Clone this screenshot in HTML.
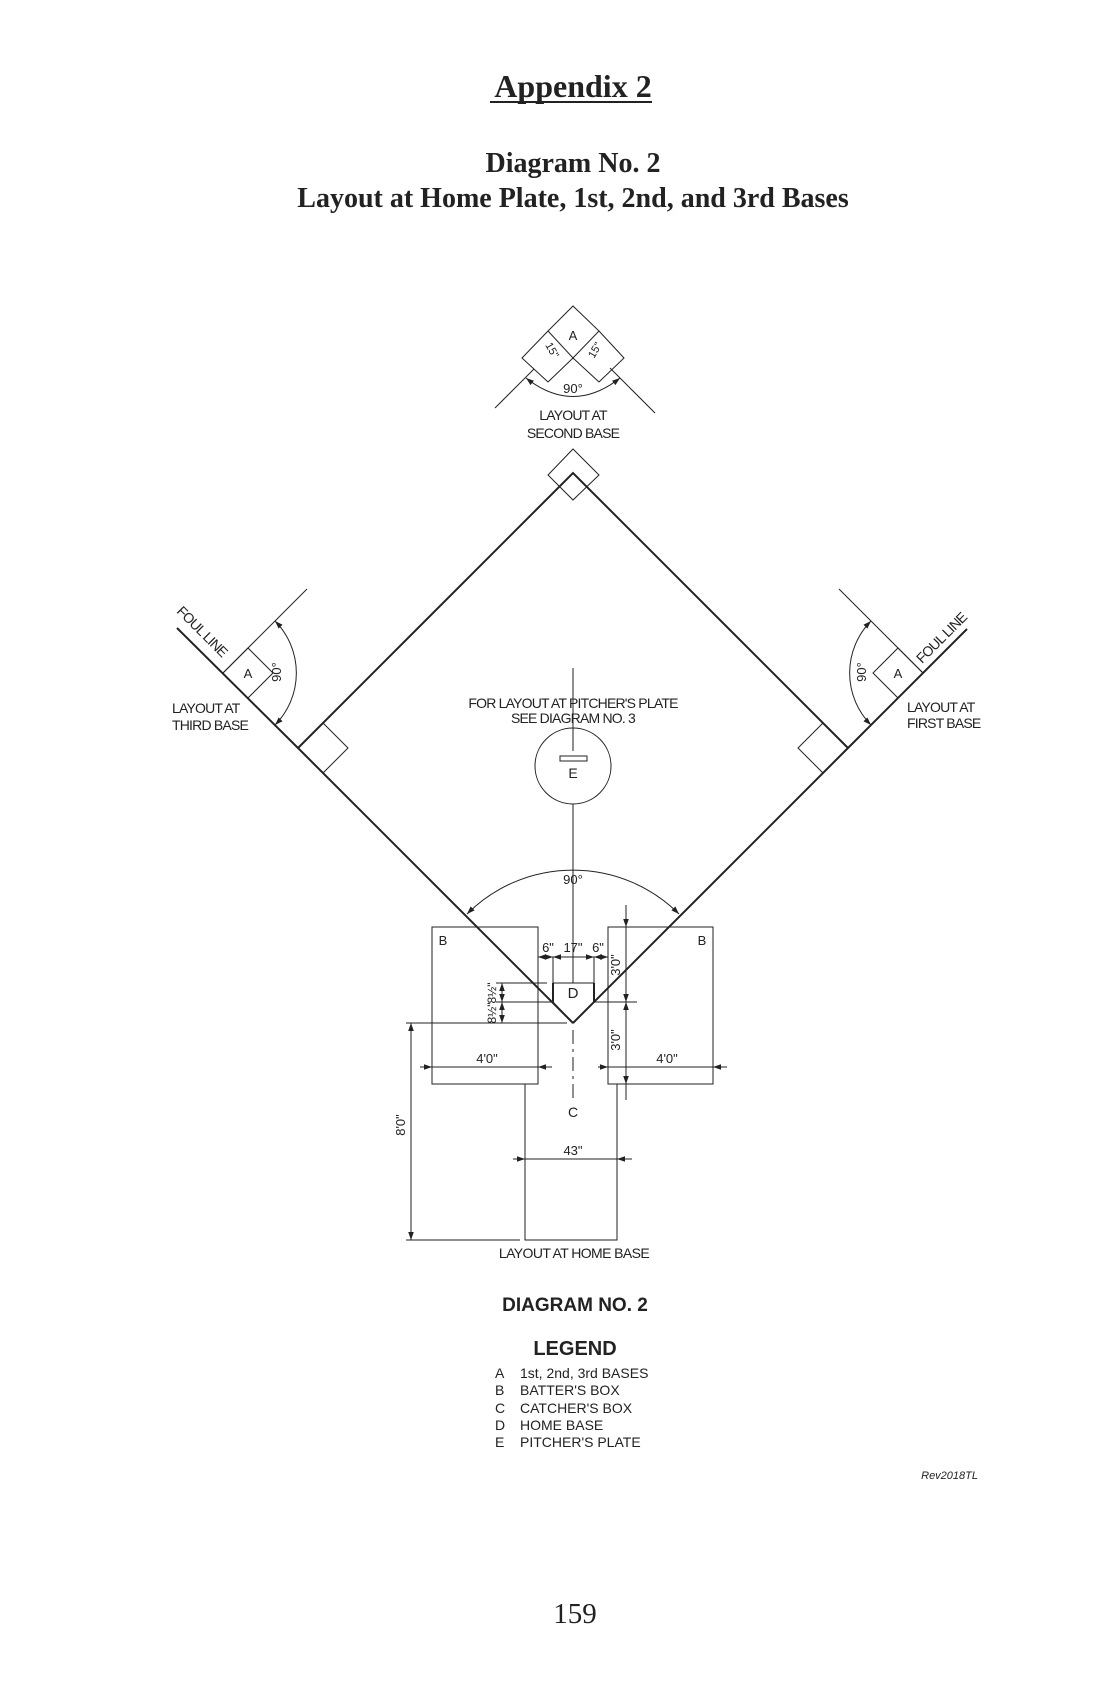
<!DOCTYPE html>
<html><head><meta charset="utf-8"><style>
html,body{margin:0;padding:0;background:#fff;}
svg{display:block;}
.s{font-family:"Liberation Sans",sans-serif;fill:#222;}
.t{font-family:"Liberation Serif",serif;font-weight:bold;fill:#222;}
</style></head><body>
<svg width="1100" height="1700" viewBox="0 0 1100 1700" xmlns="http://www.w3.org/2000/svg">
<defs>
<marker id="ar" viewBox="0 0 10 10" refX="10" refY="5" markerWidth="8" markerHeight="8" orient="auto-start-reverse" markerUnits="userSpaceOnUse"><path d="M0,1.5 L10,5 L0,8.5 z" fill="#222"/></marker>
</defs>
<!-- Header -->
<text class="t" x="573" y="97" font-size="32" text-anchor="middle">Appendix 2</text>
<line x1="490" y1="102" x2="652" y2="102" stroke="#222" stroke-width="2"/>
<text class="t" x="573" y="172" font-size="28" text-anchor="middle">Diagram No. 2</text>
<text class="t" x="573" y="207" font-size="28" text-anchor="middle">Layout at Home Plate, 1st, 2nd, and 3rd Bases</text>

<g stroke="#222" fill="none" stroke-width="1">
<!-- Second base layout -->
<path d="M573,306 L599,331 L573,358 L548,331 Z"/>
<path d="M548,331 L522,358 L548,382 L573,358"/>
<path d="M599,331 L624,358 L599,382 L573,358"/>
<line x1="495" y1="408" x2="534" y2="369"/>
<line x1="655" y1="413" x2="610" y2="368"/>
<path d="M526,378 Q573,415 620,378" marker-start="url(#ar)" marker-end="url(#ar)"/>

<!-- Main diamond -->
<path d="M573,1023 L298,748 L573,473 L848,748 L573,1023" stroke-width="2"/>
<line x1="298" y1="748" x2="177" y2="628" stroke-width="2"/>
<line x1="848" y1="748" x2="967" y2="629" stroke-width="2"/>
<path d="M573,449 L599,475 L573,500 L548,475 Z"/>
<path d="M298,748 L323,723 L348,748 L323,773 Z"/>
<path d="M848,748 L823,723 L798,748 L823,773 Z"/>

<!-- Third base layout -->
<line x1="223" y1="673" x2="307" y2="589"/>
<path d="M223,673 L248,648 L273,673 L248,698"/>
<path d="M275,621 A74,74 0 0 1 275,725" marker-start="url(#ar)" marker-end="url(#ar)"/>
<!-- First base layout -->
<line x1="923" y1="673" x2="839" y2="589"/>
<path d="M923,673 L898,648 L873,673 L898,698"/>
<path d="M871,621 A74,74 0 0 0 871,725" marker-start="url(#ar)" marker-end="url(#ar)"/>

<!-- Pitcher -->
<circle cx="573" cy="766" r="38"/>
<line x1="573" y1="668" x2="573" y2="751"/>
<rect x="560" y="756" width="27" height="5"/>
<line x1="573" y1="804" x2="573" y2="983"/>
<path d="M467,914 A150,150 0 0 1 679,914" marker-start="url(#ar)" marker-end="url(#ar)"/>

<!-- Batter's boxes -->
<rect x="432" y="927" width="106" height="157"/>
<rect x="608" y="927" width="105" height="157"/>
<!-- Home plate -->
<path d="M553,983 L594,983 L594,1002 L573,1023 L553,1002 Z"/>
<line x1="553" y1="983" x2="553" y2="1002" stroke-width="2"/>
<line x1="594" y1="983" x2="594" y2="1002" stroke-width="2"/>
<line x1="553" y1="957" x2="553" y2="983"/>
<line x1="594" y1="957" x2="594" y2="983"/>
<line x1="538" y1="957" x2="553" y2="957" marker-start="url(#ar)" marker-end="url(#ar)"/>
<line x1="553" y1="957" x2="594" y2="957" marker-start="url(#ar)" marker-end="url(#ar)"/>
<line x1="594" y1="957" x2="608" y2="957" marker-start="url(#ar)" marker-end="url(#ar)"/>
<line x1="496" y1="983" x2="547" y2="983"/>
<line x1="496" y1="1002" x2="553" y2="1002"/>
<line x1="406" y1="1023" x2="567" y2="1023"/>
<line x1="502" y1="983" x2="502" y2="1002" marker-start="url(#ar)" marker-end="url(#ar)"/>
<line x1="502" y1="1002" x2="502" y2="1023" marker-start="url(#ar)" marker-end="url(#ar)"/>
<line x1="626" y1="905" x2="626" y2="927" marker-end="url(#ar)"/>
<line x1="626" y1="927" x2="626" y2="1002" marker-end="url(#ar)"/>
<line x1="626" y1="1002" x2="626" y2="1084" marker-start="url(#ar)" marker-end="url(#ar)"/>
<line x1="626" y1="1084" x2="626" y2="1100" />
<line x1="594" y1="1002" x2="637" y2="1002"/>
<line x1="420" y1="1067" x2="432" y2="1067" marker-end="url(#ar)"/>
<line x1="432" y1="1067" x2="538" y2="1067"/>
<line x1="538" y1="1067" x2="552" y2="1067" marker-start="url(#ar)"/>
<line x1="598" y1="1067" x2="608" y2="1067" marker-end="url(#ar)"/>
<line x1="608" y1="1067" x2="713" y2="1067"/>
<line x1="713" y1="1067" x2="727" y2="1067" marker-start="url(#ar)"/>
<line x1="573" y1="1030" x2="573" y2="1100" stroke-dasharray="14,5,3,5"/>
<path d="M525,1084 L525,1240 L617,1240 L617,1084"/>
<line x1="406" y1="1240" x2="520" y2="1240"/>
<line x1="411" y1="1023" x2="411" y2="1240" marker-start="url(#ar)" marker-end="url(#ar)"/>
<line x1="513" y1="1159" x2="525" y2="1159" marker-end="url(#ar)"/>
<line x1="525" y1="1159" x2="617" y2="1159"/>
<line x1="617" y1="1159" x2="632" y2="1159" marker-start="url(#ar)"/>
</g>

<g class="s" font-size="13">
<text x="573" y="340" text-anchor="middle">A</text>
<text font-size="11" transform="translate(549,352) rotate(60)" text-anchor="middle">15"</text>
<text font-size="11" transform="translate(598,352) rotate(-60)" text-anchor="middle">15"</text>
<text x="573" y="393" text-anchor="middle">90°</text>
<text x="573" y="420" text-anchor="middle" font-size="14" letter-spacing="-0.8">LAYOUT AT</text>
<text x="573" y="438" text-anchor="middle" font-size="14" letter-spacing="-0.8">SECOND BASE</text>

<text x="248" y="678" text-anchor="middle">A</text>
<text transform="translate(281,672) rotate(-90)" text-anchor="middle">90°</text>
<text transform="translate(176,612) rotate(45)" font-size="14" letter-spacing="-0.8">FOUL LINE</text>
<text x="172" y="713" font-size="14" letter-spacing="-0.8">LAYOUT AT</text>
<text x="172" y="730" font-size="14" letter-spacing="-0.8">THIRD BASE</text>

<text x="898" y="678" text-anchor="middle">A</text>
<text transform="translate(866,672) rotate(-90)" text-anchor="middle">90°</text>
<text transform="translate(922,664) rotate(-45)" font-size="14" letter-spacing="-0.8">FOUL LINE</text>
<text x="907" y="712" font-size="14" letter-spacing="-0.8">LAYOUT AT</text>
<text x="907" y="728" font-size="14" letter-spacing="-0.8">FIRST BASE</text>

<text x="573" y="708" text-anchor="middle" font-size="14" letter-spacing="-0.8">FOR LAYOUT AT PITCHER'S PLATE</text>
<text x="573" y="723" text-anchor="middle" font-size="14" letter-spacing="-0.8">SEE DIAGRAM NO. 3</text>
<text x="573" y="778" text-anchor="middle" font-size="14">E</text>
<text x="573" y="884" text-anchor="middle">90°</text>

<text x="443" y="945" text-anchor="middle">B</text>
<text x="702" y="945" text-anchor="middle">B</text>
<text x="548" y="952" text-anchor="middle">6"</text>
<text x="573" y="952" text-anchor="middle">17"</text>
<text x="598" y="952" text-anchor="middle">6"</text>
<text x="573" y="998" text-anchor="middle" font-size="15">D</text>
<text transform="translate(496,993) rotate(-90)" text-anchor="middle" font-size="12">8½"</text>
<text transform="translate(496,1013) rotate(-90)" text-anchor="middle" font-size="12">8½"</text>
<text transform="translate(620,965) rotate(-90)" text-anchor="middle">3'0"</text>
<text transform="translate(620,1040) rotate(-90)" text-anchor="middle">3'0"</text>
<text x="487" y="1063" text-anchor="middle">4'0"</text>
<text x="667" y="1063" text-anchor="middle">4'0"</text>
<text x="573" y="1117" text-anchor="middle" font-size="14">C</text>
<text x="573" y="1155" text-anchor="middle">43"</text>
<text transform="translate(405,1125) rotate(-90)" text-anchor="middle">8'0"</text>
<text x="574" y="1258" text-anchor="middle" font-size="14" letter-spacing="-0.6">LAYOUT AT HOME BASE</text>
</g>

<text class="s" x="575" y="1311" text-anchor="middle" font-size="19" font-weight="bold">DIAGRAM NO. 2</text>
<text class="s" x="575" y="1355" text-anchor="middle" font-size="20" font-weight="bold">LEGEND</text>
<g class="s" font-size="14">
<text x="495" y="1378">A</text><text x="520" y="1378">1st, 2nd, 3rd BASES</text>
<text x="495" y="1395">B</text><text x="520" y="1395">BATTER'S BOX</text>
<text x="495" y="1413">C</text><text x="520" y="1413">CATCHER'S BOX</text>
<text x="495" y="1430">D</text><text x="520" y="1430">HOME BASE</text>
<text x="495" y="1447">E</text><text x="520" y="1447">PITCHER'S PLATE</text>
</g>
<text class="s" x="978" y="1479" text-anchor="end" font-size="11" font-style="italic">Rev2018TL</text>
<text x="575" y="1623" text-anchor="middle" font-size="29" font-family="Liberation Serif, serif" fill="#222">159</text>
</svg>
</body></html>
